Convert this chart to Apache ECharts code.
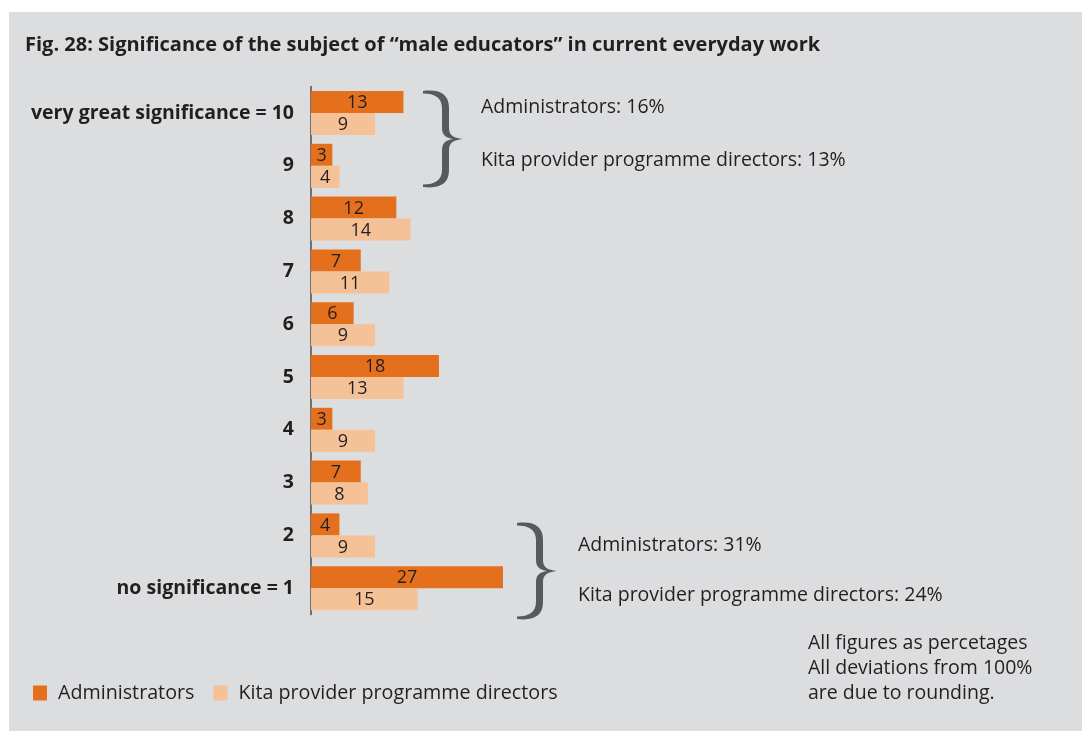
<!DOCTYPE html>
<html>
<head>
<meta charset="utf-8">
<script src="https://cdn.jsdelivr.net/npm/echarts@6/dist/echarts.min.js"></script>
<style>
html,body{margin:0;padding:0;background:#ffffff;}
#c{position:absolute;left:0;top:0;width:1083px;height:731px;}
</style>
</head>
<body>
<div id="c"></div>
<script>
// Data (top to bottom)
var categories = ['very great significance = 10', '9', '8', '7', '6', '5', '4', '3', '2', 'no significance = 1'];
var administrators = [13, 3, 12, 7, 6, 18, 3, 7, 4, 27];
var kitaDirectors = [9, 4, 14, 11, 9, 13, 9, 8, 9, 15];
var seriesNames = ['Administrators', 'Kita provider programme directors'];
var titleText = 'Fig. 28: Significance of the subject of \u201cmale educators\u201d in current everyday work';
var topNote = ['Administrators: 16%', 'Kita provider programme directors: 13%'];
var bottomNote = ['Administrators: 31%', 'Kita provider programme directors: 24%'];
var footNote = ['All figures as percetages', 'All deviations from 100%', 'are due to rounding.'];

var FONT = '"Open Sans", "DejaVu Sans", sans-serif';
var TXT = '#231f20';
var ORANGE = '#e4701e';
var PEACH = '#f5c197';
var BRACE = '#58595b';

var bracePath = 'M0 1 C18 -1 26 5 26 18 L26 38 C26 45 30 48 40 49 C30 50 26 53 26 60 L26 80 C26 93 18 99 0 97 L0 94.5 C12 94.5 19 90 19 80 L19 60 C19 53 23 50 30 49 C23 48 19 45 19 38 L19 18 C19 8 12 3.5 0 3.5 Z';
var bracePos = [[423, 90], [517, 522]];

var chart = echarts.init(document.getElementById('c'), null, {renderer: 'canvas'});

var labelStyle = {show: true, position: 'inside', color: TXT, fontFamily: FONT, fontSize: 18, offset: [0, 1]};

chart.setOption({
  backgroundColor: '#ffffff',
  animation: false,
  textStyle: {fontFamily: FONT},
  grid: {left: 311, right: 61, top: 86.6, height: 528, containLabel: false},
  legend: {
    left: 33, top: 683, padding: 0,
    itemWidth: 14, itemHeight: 15, itemGap: 19,
    icon: 'rect',
    data: seriesNames,
    textStyle: {color: TXT, fontFamily: FONT, fontSize: 19.7, padding: [0, 0, 0, 6]}
  },
  xAxis: {type: 'value', min: 0, max: 100, show: false},
  yAxis: {
    type: 'category', data: categories, inverse: true,
    axisLine: {show: true, lineStyle: {color: '#4d4d4f', width: 1.5}},
    axisTick: {show: false},
    axisLabel: {color: TXT, fontFamily: FONT, fontWeight: 'bold', fontSize: 19.5, margin: 17}
  },
  series: [
    {name: seriesNames[0], type: 'bar', data: administrators, barWidth: 22, barGap: '0%', itemStyle: {color: ORANGE}, label: labelStyle},
    {name: seriesNames[1], type: 'bar', data: kitaDirectors, barWidth: 22, barGap: '0%', itemStyle: {color: PEACH}, label: labelStyle},
    {
      type: 'custom', coordinateSystem: 'none', data: [0], silent: true, z: 5,
      renderItem: function () {
        return {
          type: 'group',
          children: bracePos.map(function (p) {
            return {type: 'path', x: p[0], y: p[1], shape: {pathData: bracePath}, style: {fill: BRACE}};
          })
        };
      }
    }
  ],
  graphic: [
    {type: 'rect', z: -10, shape: {x: 9, y: 12, width: 1073, height: 719}, style: {fill: '#dcdddf'}},
    {type: 'text', x: 25, y: 45, style: {text: titleText, fill: TXT, font: 'bold 20px ' + FONT, verticalAlign: 'middle'}},
    {type: 'text', x: 481, y: 107, style: {text: topNote[0], fill: TXT, font: '19.5px ' + FONT, verticalAlign: 'middle'}},
    {type: 'text', x: 481, y: 160, style: {text: topNote[1], fill: TXT, font: '19.5px ' + FONT, verticalAlign: 'middle'}},
    {type: 'text', x: 578, y: 545, style: {text: bottomNote[0], fill: TXT, font: '19.5px ' + FONT, verticalAlign: 'middle'}},
    {type: 'text', x: 578, y: 595, style: {text: bottomNote[1], fill: TXT, font: '19.5px ' + FONT, verticalAlign: 'middle'}},
    {type: 'text', x: 808, y: 631, style: {text: footNote.join('\n'), fill: TXT, font: '19.5px ' + FONT, lineHeight: 25, verticalAlign: 'top'}}
  ]
});
</script>
</body>
</html>
